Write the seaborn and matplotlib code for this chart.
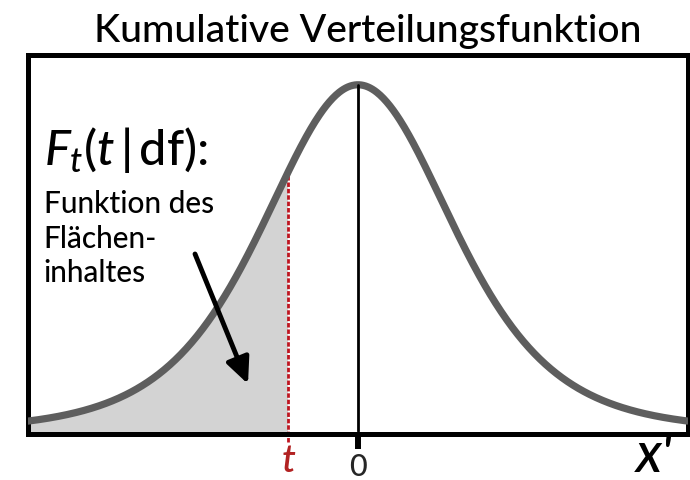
import math
import numpy as np
import pandas as pd
import matplotlib
matplotlib.use("Agg")
import matplotlib.pyplot as plt
import seaborn as sns

# Student t density shown in the panel
df_t = 5            # degrees of freedom
t_value = -0.71     # position of the marked quantile t
x_range = (-3.37, 3.36)
y_range = (-0.0027, 0.4117)

title_text = "Kumulative Verteilungsfunktion"
formula_text = r"$F_t(t\,|\,\mathrm{df})$:"
caption_lines = ["Funktion des", "Flächen-", "inhaltes"]
tick_values = [0]
tick_labels = ["0"]


def t_pdf(x, nu):
    c = math.gamma((nu + 1) / 2) / (math.sqrt(nu * math.pi) * math.gamma(nu / 2))
    return c * (1 + x ** 2 / nu) ** (-(nu + 1) / 2)


xs = np.linspace(x_range[0], x_range[1], 600)
curve = pd.DataFrame({"x": xs, "density": t_pdf(xs, df_t)})

sns.set_theme(style="white")
plt.rcParams["font.family"] = ["Lato", "DejaVu Sans"]
plt.rcParams["font.weight"] = "medium"
plt.rcParams["mathtext.fontset"] = "custom"
plt.rcParams["mathtext.rm"] = "Lato"
plt.rcParams["mathtext.it"] = "Lato:italic"
plt.rcParams["mathtext.bf"] = "Lato:bold"

fig = plt.figure(figsize=(6.9, 4.81), dpi=100)
ax = fig.add_axes([0.03986, 0.09667, 0.95652, 0.78587])

# shaded area left of t
left = curve[curve["x"] <= t_value]
ax.fill_between(left["x"], y_range[0], left["density"], color="#d3d3d3",
                linewidth=0, zorder=1)

# density curve
sns.lineplot(data=curve, x="x", y="density", ax=ax, color="#5e5e5e",
             linewidth=5.2, zorder=3)

# centre line at 0
ax.plot([0, 0], [0, t_pdf(0, df_t)], color="black", linewidth=2, zorder=4)

# dotted marker at t, reaching below the frame
ax.plot([t_value, t_value], [-0.0121, t_pdf(t_value, df_t)], color="#bf1520",
        linewidth=2.0, dashes=(1.6, 0.7), zorder=2, clip_on=False)

ax.set_xlim(*x_range)
ax.set_ylim(*y_range)
ax.set_xlabel("")
ax.set_ylabel("")
ax.set_yticks([])
ax.set_xticks(tick_values)
ax.set_xticklabels(tick_labels, fontsize=22)
ax.tick_params(axis="x", direction="out", length=11, width=4.3, color="black",
               pad=2.5, bottom=True)
for sp in ax.spines.values():
    sp.set_visible(True)
    sp.set_color("black")
    sp.set_linewidth(3.6)

ax.text(t_value, -0.098, "t", transform=ax.get_xaxis_transform(),
        ha="center", va="baseline", fontsize=28, fontstyle="italic",
        color="#b22222")
ax.text(0.95, -0.1, "x'", transform=ax.transAxes, ha="center",
        va="baseline", fontsize=40, fontstyle="italic", color="black")

ax.text(0.0245, 0.713, formula_text, transform=ax.transAxes, ha="left",
        va="baseline", fontsize=35, color="black")
for i, line in enumerate(caption_lines):
    ax.text(0.0245, 0.586 - i * 0.0915, line, transform=ax.transAxes,
            ha="left", va="baseline", fontsize=21.5, color="black")

ax.annotate("", xy=(0.3341, 0.131), xytext=(0.2538, 0.4749),
            xycoords="axes fraction", textcoords="axes fraction",
            arrowprops=dict(arrowstyle="-|>,head_length=1.3,head_width=0.6",
                            color="black", linewidth=3.5, shrinkA=0, shrinkB=0),
            zorder=5)

fig.text(368 / 690, 1 - 42 / 481, title_text, ha="center", va="baseline",
         fontsize=28.2, color="black")

fig.savefig("out.png", dpi=100, facecolor="white")
